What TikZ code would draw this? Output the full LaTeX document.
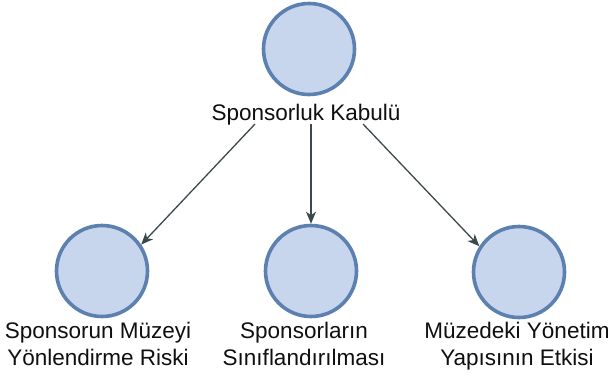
\documentclass[tikz,border=0pt]{standalone}
\usepackage{fontspec}
\setmainfont{Liberation Sans}
\usetikzlibrary{arrows.meta,calc}
\definecolor{ringblue}{RGB}{92,128,176}
\definecolor{innerblue}{RGB}{160,192,232}
\definecolor{bubble}{RGB}{199,214,236}
\definecolor{edgegray}{RGB}{58,74,76}
\definecolor{labelink}{RGB}{15,15,15}
\tikzset{
  bubblenode/.style={circle, minimum size=91pt, inner sep=0pt, fill=bubble,
    draw=ringblue, line width=3.6pt,
    append after command={\pgfextra{\draw[innerblue, line width=0.9pt]
      (\tikzlastnode.center) circle[radius=43.2pt];}}},
  caption/.style={font=\fontsize{22.5}{27}\selectfont, text=labelink,
    align=center, inner sep=0pt, anchor=base},
  link/.style={draw=edgegray, line width=1.3pt,
    -{Stealth[length=12pt, width=10pt, inset=3.5pt]}}
}
\begin{document}
\begin{tikzpicture}[x=1pt, y=-1pt]
  \useasboundingbox (0,0) rectangle (609,378);
  % concepts
  \node[bubblenode] (root) at (309,49) {};
  \node[caption] (rootlabel) at (306,120) {Sponsorluk Kabulü};
  \node[bubblenode] (risk) at (102,271) {};
  \node[bubblenode] (classes) at (311,271) {};
  \node[bubblenode] (effect) at (519,272) {};
  % two-line captions: the base anchor sits on the second line
  \node[caption] (risklabel) at (98,365) {Sponsorun Müzeyi\\Yönlendirme Riski};
  \node[caption] (classlabel) at (304,365) {Sponsorların\\Sınıflandırılması};
  \node[caption] (effectlabel) at (517,365) {Müzedeki Yönetim\\Yapısının Etkisi};
  % edges leave from under the root caption
  \coordinate (outleft) at ($(rootlabel.base)+(-51,4)$);
  \coordinate (outmid) at ($(classes.north |- rootlabel.base)+(0,4)$);
  \coordinate (outright) at ($(rootlabel.base)+(57,4)$);
  \draw[link] (outleft) -- (risk.34);
  \draw[link] (outmid) -- (classes.north);
  \draw[link] (outright) -- (effect.147);
\end{tikzpicture}
\end{document}
